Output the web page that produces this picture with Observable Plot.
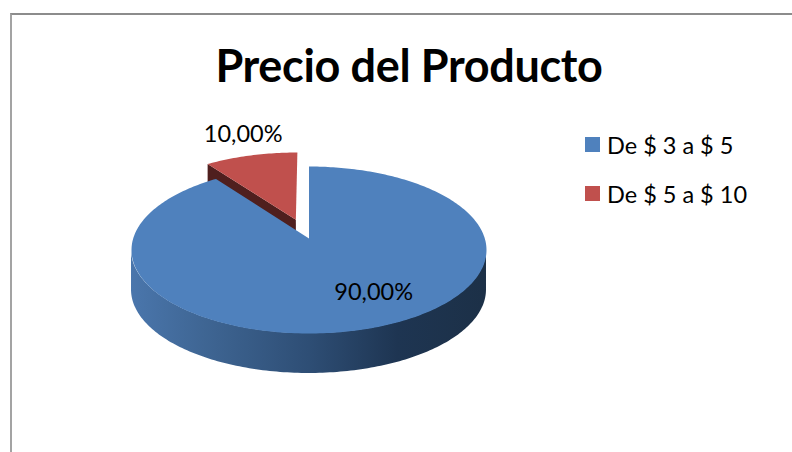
<!DOCTYPE html>
<html lang="es">
<head>
<meta charset="utf-8">
<title>Precio del Producto</title>
<script src="https://cdn.jsdelivr.net/npm/d3@7"></script>
<script src="https://cdn.jsdelivr.net/npm/@observablehq/plot@0.6"></script>
<style>
  html, body { margin: 0; padding: 0; background: #fff; }
  #chart { position: relative; width: 792px; height: 452px; overflow: hidden; font-family: Lato, sans-serif; color: #000; }
  #frame { position: absolute; left: 10px; top: 13px; width: 800px; height: 460px; border: 2px solid #8c8c8c; border-left-color: #a3a3a3; }
  #chart svg { position: absolute; left: 0; top: 0; }
  #title { position: absolute; left: 0; width: 818px; top: 38px; text-align: center; font-size: 45px; line-height: 54px; font-weight: 700; letter-spacing: -0.35px; white-space: nowrap; }
  #legend div.row { position: absolute; left: 585px; height: 30px; white-space: nowrap; }
  #legend i { position: absolute; left: 0; top: 7px; width: 15px; height: 15px; }
  #legend span { position: absolute; left: 22px; top: 0; font-size: 23.5px; line-height: 30px; }
</style>
</head>
<body>
<div id="chart">
  <div id="frame"></div>
  <div id="title">Precio del Producto</div>
  <div id="legend"></div>
</div>
<script>
// Chart content
const categories = ["De $ 3 a $ 5", "De $ 5 a $ 10"];
const shares = [90, 10];
const shareLabels = ["90,00%", "10,00%"];
const sliceColors = ["#4f81bd", "#c0504d"];
const legendTops = [130, 179];

// Pie geometry, in units of the pie's radius
const tilt = -0.1377;      // perspective of the tilted disc
const depth = 0.488;       // height of the disc's side wall
const explode = 0.25;      // how far the small slice is pulled out
const deg = Math.PI / 180;

// Tilted-disc projection; bearing is clockwise from the far edge of the pie
const project = (u, v) => ({X: u / (1 + tilt * v), Y: v / (1 + tilt * v)});
const onRim = (bearing, radius = 1, ou = 0, ov = 0) =>
  project(ou + radius * Math.sin(bearing * deg), ov - radius * Math.cos(bearing * deg));

// Slice bearings follow from the shares, starting at the far edge and going clockwise
const total = d3.sum(shares);
const blueEnd = shares[0] / total * 360;
const mid = (blueEnd + 360) / 2;
const ou = explode * Math.sin(mid * deg);
const ov = -explode * Math.cos(mid * deg);

// Large slice: apex, then its whole arc
const blueTop = [project(0, 0), ...d3.range(0, blueEnd + 0.5, 1).map((b) => onRim(b))];

// Small slice: pulled out along its mid bearing
const redArc = d3.range(blueEnd, 360.5, 1).map((b) => onRim(b, 0.99, ou, ov));
const redApex = project(ou, ov);
const redTop = [redApex, ...redArc];
const redCutStart = redArc[0];
const redWall = [
  redApex, redCutStart,
  {X: redCutStart.X, Y: redCutStart.Y + depth * 0.75},
  {X: redApex.X, Y: redApex.Y + depth * 0.75}
];

// Visible part of the rim, from the right-hand tangent round the near side to the left
const side = d3.range(98, 262.5, 1).map((b) => onRim(b));

// Value labels sit a little off the radial positions of their slices
const blueLabel = [{...onRim(blueEnd / 2, 0.62), text: shareLabels[0]}];
const redLabel = [{...onRim(mid, 1.35, ou, ov), text: shareLabels[1]}];

const sideGradient = () => {
  const NS = "http://www.w3.org/2000/svg";
  const defs = document.createElementNS(NS, "defs");
  const g = document.createElementNS(NS, "linearGradient");
  g.setAttribute("id", "wall-shade");
  g.setAttribute("x1", "0"); g.setAttribute("x2", "1");
  g.setAttribute("y1", "0"); g.setAttribute("y2", "0");
  // Lit on the left, falling into shadow towards the right
  [[0, "#4a76ac"], [0.2, "#3f6694"], [0.5, "#2e4e75"], [0.75, "#1e3552"], [1, "#1c3047"]].forEach(([o, c]) => {
    const s = document.createElementNS(NS, "stop");
    s.setAttribute("offset", o); s.setAttribute("stop-color", c);
    g.appendChild(s);
  });
  defs.appendChild(g);
  return defs;
};

const plot = Plot.plot({
  width: 792,
  height: 452,
  margin: 0,
  style: {background: "transparent", fontFamily: "Lato, sans-serif", color: "#000"},
  x: {axis: null, domain: [-308.5 / 175.8, (792 - 308.5) / 175.8], range: [0, 792]},
  y: {axis: null, domain: [-238 / 81.9, (452 - 238) / 81.9], range: [0, 452]},
  marks: [
    sideGradient,
    Plot.line(redWall, {x: "X", y: "Y", fill: "#4f1f1e", stroke: null}),
    Plot.line(redTop, {x: "X", y: "Y", fill: sliceColors[1], stroke: null}),
    Plot.areaY(side, {x: "X", y1: "Y", y2: (d) => d.Y + depth, fill: "url(#wall-shade)"}),
    Plot.line(blueTop, {x: "X", y: "Y", fill: sliceColors[0], stroke: null}),
    Plot.text(blueLabel, {x: "X", y: "Y", text: "text", dx: 28, dy: 1, fontSize: 23.5, fill: "#000"}),
    Plot.text(redLabel, {x: "X", y: "Y", text: "text", dx: 6, dy: -1, fontSize: 23.5, fill: "#000"})
  ]
});
document.getElementById("chart").appendChild(plot);

// Legend
const legend = document.getElementById("legend");
categories.forEach((name, i) => {
  const row = document.createElement("div");
  row.className = "row";
  row.style.top = legendTops[i] + "px";
  row.innerHTML = `<i style="background:${sliceColors[i]}"></i><span>${name}</span>`;
  legend.appendChild(row);
});
</script>
</body>
</html>
